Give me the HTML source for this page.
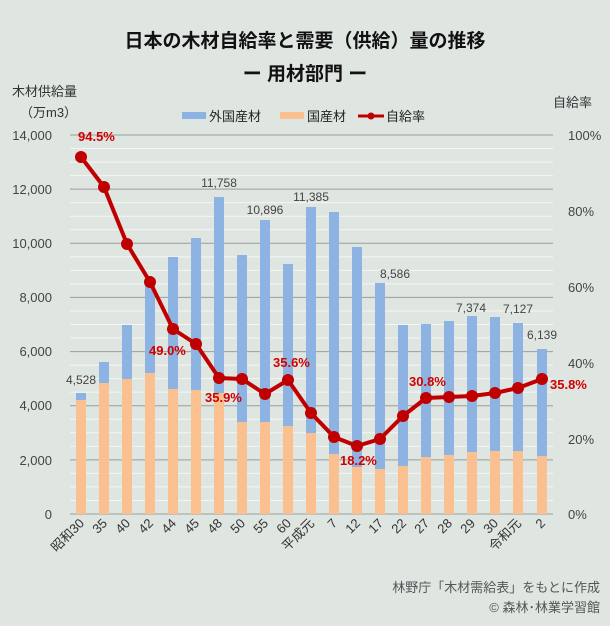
<!DOCTYPE html>
<html><head><meta charset="utf-8"><style>
html,body{margin:0;padding:0}
body{width:610px;height:621px;overflow:hidden;background:#dfe5e1;font-family:"Liberation Sans","Noto Sans CJK JP",sans-serif}
svg text{font-family:"Liberation Sans","Noto Sans CJK JP",sans-serif}
</style></head><body>
<svg id="s" width="610" height="621" viewBox="0 0 610 621" xmlns="http://www.w3.org/2000/svg">
<rect width="610" height="621" fill="#dfe5e1"/>
<g id="grid"></g>
<g id="bars"></g>
<g id="line"></g>
<text x="305" y="47" font-size="19" font-weight="bold" text-anchor="middle" fill="#111">日本の木材自給率と需要（供給）量の推移</text>
<text x="305" y="80" font-size="19" font-weight="bold" text-anchor="middle" fill="#111">ー 用材部門 ー</text>
<text x="12" y="96" font-size="13" fill="#333">木材供給量</text>
<text x="20" y="117" font-size="13" fill="#333">（万m3）</text>
<text x="553" y="107" font-size="13" fill="#333">自給率</text>
<rect x="182" y="112" width="24" height="7" fill="#8db3e2"/>
<text x="209" y="121" font-size="13" fill="#222">外国産材</text>
<rect x="280" y="112" width="24" height="7" fill="#fac090"/>
<text x="307" y="121" font-size="13" fill="#222">国産材</text>
<line x1="358" y1="116" x2="384" y2="116" stroke="#c00000" stroke-width="3"/>
<circle cx="371" cy="116" r="3.5" fill="#c00000"/>
<text x="386" y="121" font-size="13" fill="#222">自給率</text>
<g font-size="13" fill="#444" text-anchor="end">
<text x="52" y="140">14,000</text><text x="52" y="194">12,000</text><text x="52" y="248">10,000</text>
<text x="52" y="302">8,000</text><text x="52" y="356">6,000</text><text x="52" y="410">4,000</text>
<text x="52" y="465">2,000</text><text x="52" y="519">0</text>
</g>
<g font-size="13" fill="#444">
<text x="568" y="140">100%</text><text x="568" y="216">80%</text><text x="568" y="292">60%</text>
<text x="568" y="368">40%</text><text x="568" y="444">20%</text><text x="568" y="519">0%</text>
</g>
<g font-size="12" fill="#444" text-anchor="middle" font-family="'Liberation Sans Narrow','Liberation Sans',sans-serif">
<text x="81" y="384">4,528</text><text x="219" y="187">11,758</text><text x="265" y="214">10,896</text>
<text x="311" y="201">11,385</text><text x="395" y="278">8,586</text><text x="471" y="312">7,374</text>
<text x="518" y="313">7,127</text><text x="542" y="339">6,139</text>
</g>
<g font-size="13" font-weight="bold" fill="#d00000">
<text x="78" y="141">94.5%</text><text x="149" y="355">49.0%</text><text x="205" y="402">35.9%</text>
<text x="273" y="367">35.6%</text><text x="340" y="465">18.2%</text><text x="409" y="386">30.8%</text>
<text x="550" y="389">35.8%</text>
</g>
<g font-size="13" fill="#333" text-anchor="end">
<text transform="translate(85,524) rotate(-45)">昭和30</text>
<text transform="translate(108,524) rotate(-45)">35</text>
<text transform="translate(131,524) rotate(-45)">40</text>
<text transform="translate(154,524) rotate(-45)">42</text>
<text transform="translate(177,524) rotate(-45)">44</text>
<text transform="translate(200,524) rotate(-45)">45</text>
<text transform="translate(223,524) rotate(-45)">48</text>
<text transform="translate(246,524) rotate(-45)">50</text>
<text transform="translate(269,524) rotate(-45)">55</text>
<text transform="translate(292,524) rotate(-45)">60</text>
<text transform="translate(315,524) rotate(-45)">平成元</text>
<text transform="translate(338,524) rotate(-45)">7</text>
<text transform="translate(361,524) rotate(-45)">12</text>
<text transform="translate(384,524) rotate(-45)">17</text>
<text transform="translate(407,524) rotate(-45)">22</text>
<text transform="translate(430,524) rotate(-45)">27</text>
<text transform="translate(453,524) rotate(-45)">28</text>
<text transform="translate(476,524) rotate(-45)">29</text>
<text transform="translate(499,524) rotate(-45)">30</text>
<text transform="translate(522,524) rotate(-45)">令和元</text>
<text transform="translate(546,524) rotate(-45)">2</text>
</g>
<text x="600" y="592" font-size="13" fill="#555" text-anchor="end">林野庁「木材需給表」をもとに作成</text>
<text x="600" y="612" font-size="13" fill="#555" text-anchor="end">© 森林･林業学習館</text>
</svg>
<script>
var NS="http://www.w3.org/2000/svg";
function el(p,t,a){var e=document.createElementNS(NS,t);for(var k in a)e.setAttribute(k,a[k]);document.getElementById(p).appendChild(e);}
for(var i=0;i<=28;i++){var y=514-i*379/28;var maj=i%4==0;
el("grid","line",{x1:70,x2:553,y1:y,y2:y,stroke:maj?"#9a9e9c":"#f4f6f5","stroke-width":1});}
var cx=[81,104,127,150,173,196,219,242,265,288,311,334,357,380,403,426,449,472,495,518,542];
var bt=[393,362,325,283,257,238,197,255,220,264,207,212,247,283,325,324,321,316,317,323,349];
var ot=[400,383,379,373,389,390,393,422,422,426,433,454,467,469,466,457,455,452,451,451,456];
var ly=[157,187,244,282,329,344,378,379,394,380,413,437,446,439,416,398,397,396,393,388,379];
for(var i=0;i<21;i++){el("bars","rect",{x:cx[i]-5,y:bt[i],width:10,height:ot[i]-bt[i],fill:"#8db3e2"});
el("bars","rect",{x:cx[i]-5,y:ot[i],width:10,height:514-ot[i],fill:"#fac090"});}
var pts=cx.map(function(x,i){return x+","+ly[i]}).join(" ");
el("line","polyline",{points:pts,fill:"none",stroke:"#c00000","stroke-width":4,"stroke-linejoin":"round"});
for(var i=0;i<21;i++)el("line","circle",{cx:cx[i],cy:ly[i],r:6,fill:"#c00000"});
</script>
</body></html>
